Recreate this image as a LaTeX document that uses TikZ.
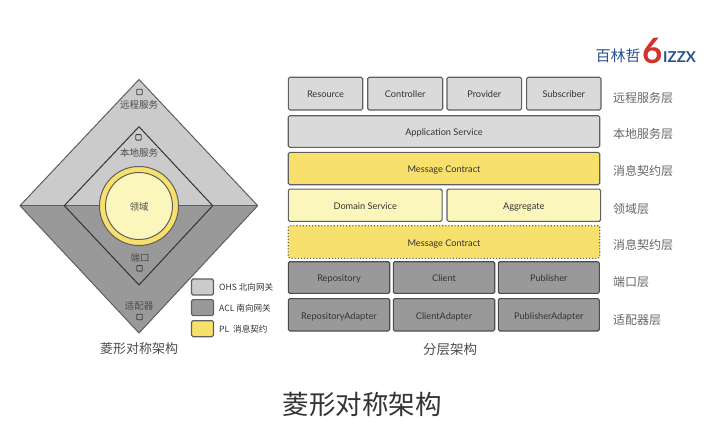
\documentclass[tikz,border=0pt]{standalone}
\usepackage{fontspec}
\setmainfont{Lato}
\newfontfamily\cjk{Noto Sans CJK SC}
\usepackage{xcolor}
\usetikzlibrary{calc}
\definecolor{lightg}{HTML}{CBCBCB}
\definecolor{rowg}{HTML}{DADADA}
\definecolor{darkg}{HTML}{999999}
\definecolor{edgeg}{HTML}{5F5F5F}
\definecolor{msgy}{HTML}{F7E06B}
\definecolor{domy}{HTML}{FBF6BC}
\definecolor{logob}{HTML}{27508F}
\definecolor{logor}{HTML}{D0342C}
\tikzset{
  layer/.style={draw=edgeg,line width=1.1pt,rounded corners=1.5pt,inner sep=0pt,text=black!80,text height=8.5pt,text depth=0pt,font=\fontsize{9.2}{10}\selectfont},
  side/.style={anchor=west,inner sep=0pt,text=black!60,font=\cjk\fontsize{12}{14}\selectfont},
  tag/.style={inner sep=0pt,text=black!70,font=\cjk\fontsize{9.5}{11}\selectfont},
  port/.style={draw=black!75,line width=0.9pt,rounded corners=0.8pt,minimum size=5.5pt,inner sep=0pt},
  swatch/.style={draw=edgeg,line width=1.1pt,rounded corners=1.5pt,minimum width=22pt,minimum height=16pt,inner sep=0pt},
  legend/.style={anchor=west,inner sep=0pt,text=black!80,font=\cjk\fontsize{8.6}{10}\selectfont},
}
\begin{document}
\begin{tikzpicture}[x=1pt,y=-1pt]
\useasboundingbox (0,0) rectangle (710,444);
% diamond
\coordinate (outT) at (139,79.5);
\coordinate (outL) at (20,205.7);
\coordinate (outR) at (257.7,205.7);
\coordinate (outB) at (139,333);
\coordinate (inT) at (139,126.7);
\coordinate (inL) at (64.3,205.7);
\coordinate (inR) at (212.7,205.7);
\coordinate (inB) at (139,285);
\fill[lightg] (outL) -- (outT) -- (outR) -- cycle;
\fill[darkg] (outL) -- (outB) -- (outR) -- cycle;
\draw[edgeg,line width=1pt,line join=round] (outL) -- (outT) -- (outR) -- (outB) -- cycle;
\draw[edgeg,line width=1pt] (outL) -- (outR);
\draw[black!80,line width=1pt,line join=round] (inL) -- (inT) -- (inR) -- (inB) -- cycle;
\node[circle,draw=edgeg,line width=1pt,fill=msgy,minimum size=79pt,inner sep=0pt] (ringPL) at (139,206) {};
\node[circle,draw=edgeg,line width=1pt,fill=domy,minimum size=67pt,inner sep=0pt] (core) at (139,206) {};
\node[tag] (coreT) at (139,207) {领域};
\node[port] (p1) at (139.5,92) {};
\node[tag] (t1) at (139,105) {远程服务};
\node[port] (p2) at (138.5,137.3) {};
\node[tag] (t2) at (139,153) {本地服务};
\node[tag] (t3) at (140,257.7) {端口};
\node[port] (p3) at (139.5,268.3) {};
\node[tag] (t4) at (139,306) {适配器};
\node[port] (p4) at (139.5,317) {};
\node[inner sep=0pt,text=black!70,font=\cjk\fontsize{13}{15}\selectfont] (capL) at (139,348.7) {菱形对称架构};
% legend
\node[swatch,fill=lightg] (sw1) at (202.5,287) {};
\node[swatch,fill=darkg] (sw2) at (202.5,307.6) {};
\node[swatch,fill=msgy] (sw3) at (202.5,328.7) {};
\node[legend] (lg1) at (219,287) {OHS 北向网关};
\node[legend] (lg2) at (219,308) {ACL 南向网关};
\node[legend] (lg3) at (219,329) {PL\ \ 消息契约};
% layers
\node[layer,fill=rowg,minimum width=74.4pt,minimum height=32.7pt] (res) at (325.5,93.6) {Resource};
\node[layer,fill=rowg,minimum width=75pt,minimum height=32.7pt] (ctl) at (405.2,93.6) {Controller};
\node[layer,fill=rowg,minimum width=74.7pt,minimum height=32.7pt] (pro) at (484.3,93.6) {Provider};
\node[layer,fill=rowg,minimum width=74.3pt,minimum height=32.7pt] (sub) at (563.8,93.6) {Subscriber};
\node[layer,fill=rowg,minimum width=311.5pt,minimum height=31.6pt] (app) at (444,131.5) {Application Service};
\node[layer,fill=msgy,minimum width=311.5pt,minimum height=32.4pt] (msg1) at (444,168.5) {Message Contract};
\node[layer,fill=domy,minimum width=153.7pt,minimum height=32.3pt] (dom) at (365.2,205.2) {Domain Service};
\node[layer,fill=domy,minimum width=153.7pt,minimum height=32.3pt] (agg) at (523.8,205.2) {Aggregate};
\node[layer,fill=msgy,dotted,minimum width=311.5pt,minimum height=32.6pt] (msg2) at (444,242) {Message Contract};
\node[layer,draw=black!70,fill=darkg,minimum width=101.4pt,minimum height=31.6pt] (rep) at (339,277.5) {Repository};
\node[layer,draw=black!70,fill=darkg,minimum width=101.4pt,minimum height=31.6pt] (cli) at (444,277.5) {Client};
\node[layer,draw=black!70,fill=darkg,minimum width=101pt,minimum height=31.6pt] (pub) at (548.8,277.5) {Publisher};
\node[layer,draw=black!70,fill=darkg,minimum width=101.4pt,minimum height=32.3pt] (repA) at (339,314.8) {RepositoryAdapter};
\node[layer,draw=black!70,fill=darkg,minimum width=101.4pt,minimum height=32.3pt] (cliA) at (444,314.8) {ClientAdapter};
\node[layer,draw=black!70,fill=darkg,minimum width=101pt,minimum height=32.3pt] (pubA) at (548.8,314.8) {PublisherAdapter};
% side labels
\node[side] (s1) at (613,98.3) {远程服务层};
\node[side] (s2) at (613,134) {本地服务层};
\node[side] (s3) at (613,171) {消息契约层};
\node[side] (s4) at (613,209) {领域层};
\node[side] (s5) at (613,245) {消息契约层};
\node[side] (s6) at (613,282) {端口层};
\node[side] (s7) at (613,320) {适配器层};
\node[inner sep=0pt,text=black!70,font=\cjk\fontsize{13.5}{15}\selectfont] (capR) at (450,349) {分层架构};
% title
\node[inner sep=0pt,text=black!80,font=\cjk\fontsize{26.5}{30}\selectfont] (title) at (362,405) {菱形对称架构};
% logo
\node[anchor=west,inner sep=0pt,text=logob,font=\cjk\fontsize{15}{17}\selectfont] (logoA) at (595.5,55.5) {百林哲};
\node[anchor=west,inner sep=0pt,text=logor,font=\bfseries\fontsize{35}{36}\selectfont] (logoB) at (642,50.5) {6};
\node[anchor=west,inner sep=0pt,text=logob,font=\bfseries\fontsize{15}{17}\selectfont] (logoC) at (663,57.5) {IZZX};
\end{tikzpicture}
\end{document}
